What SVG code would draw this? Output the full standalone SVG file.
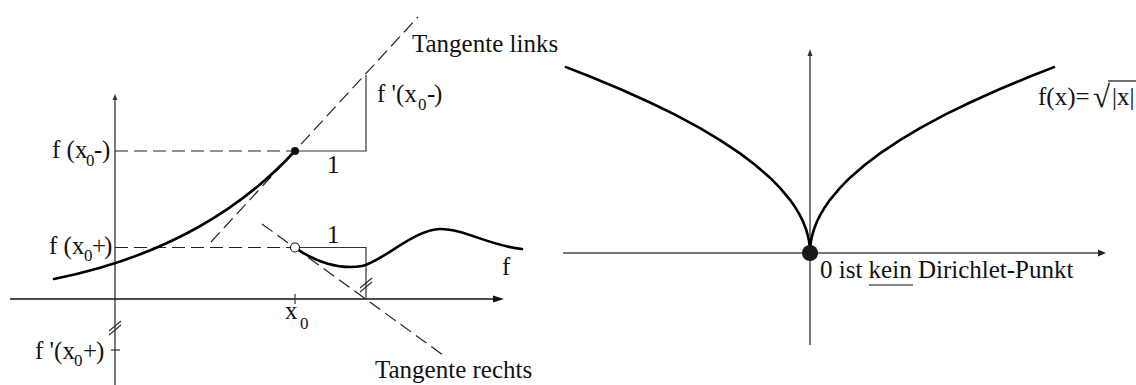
<svg xmlns="http://www.w3.org/2000/svg" width="1136" height="385" viewBox="0 0 1136 385">
<style>
text{font-family:"Liberation Serif","Times New Roman",serif;font-size:25px;fill:#111}
.sub{font-size:17px}
.dash{stroke:#222;stroke-width:1.2;stroke-dasharray:13 6;fill:none}
.thin{stroke:#333;stroke-width:1.2;fill:none}
.curve{stroke:#000;stroke-width:2.6;fill:none;stroke-linecap:round;stroke-linejoin:round}
</style>
<rect width="1136" height="385" fill="#fff"/>
<g id="left-plot">
  <g id="left-axes">
    <line x1="115" y1="98" x2="115" y2="385" stroke="#7a7a7a" stroke-width="2"/>
    <polygon points="115,94 112.5,100 117.5,100" fill="#333"/>
    <line x1="10" y1="299" x2="496" y2="299" stroke="#111" stroke-width="1.3"/>
    <polygon points="504,299 493,295.5 493,302.5" fill="#111"/>
    <line x1="295" y1="294" x2="295" y2="304" class="thin"/>
    <line x1="111" y1="350" x2="120" y2="350" class="thin"/>
    <line x1="109" y1="331" x2="121" y2="321" class="thin"/>
    <line x1="109" y1="335" x2="121" y2="325" class="thin"/>
  </g>
  <g id="connectors">
    <line x1="115" y1="151" x2="291" y2="151" class="dash"/>
    <line x1="115" y1="247.5" x2="290" y2="247.5" class="dash"/>
    <line x1="211" y1="242" x2="418" y2="17" class="dash"/>
    <line x1="262" y1="224" x2="443" y2="355" class="dash"/>
    <polyline points="295,151 366,151 366,75" class="thin"/>
    <polyline points="299.5,247.5 366,247.5 366,299" class="thin"/>
    <line x1="360" y1="288" x2="372" y2="278" class="thin"/>
    <line x1="360" y1="292" x2="372" y2="282" class="thin"/>
  </g>
  <g id="function-f">
    <path d="M54,279 C154,259 235,216 295,151" class="curve"/>
    <path d="M295,247.5 C315,262 340,270 362,266 C380,263 415,229 440,229 C465,229 490,246 522,249" class="curve"/>
    <circle cx="295" cy="151" r="4" fill="#111"/>
    <circle cx="295" cy="247.5" r="4.5" fill="#fff" stroke="#111" stroke-width="1.1"/>
  </g>
  <g id="left-labels">
    <text x="412" y="52">Tangente links</text>
    <text x="375" y="378">Tangente rechts</text>
    <text x="377" y="102">f '(x<tspan class="sub" x="418" y="110">0</tspan><tspan x="427" y="102">-</tspan><tspan x="434" y="102">)</tspan></text>
    <text x="52" y="158">f (x<tspan class="sub" x="86" y="166">0</tspan><tspan x="94" y="158">-</tspan><tspan x="102" y="158">)</tspan></text>
    <text x="49" y="254">f (x<tspan class="sub" x="84" y="261">0</tspan><tspan x="92" y="254">+</tspan><tspan x="104" y="254">)</tspan></text>
    <text x="35" y="359">f '(x<tspan class="sub" x="74" y="366">0</tspan><tspan x="83" y="359">+</tspan><tspan x="96" y="359">)</tspan></text>
    <text x="285" y="319">x<tspan class="sub" x="300" y="329">0</tspan></text>
    <text x="327" y="173">1</text>
    <text x="327" y="243">1</text>
    <text x="502" y="275">f</text>
  </g>
</g>
<g id="right-plot">
  <g id="right-axes">
    <line x1="810" y1="54" x2="810" y2="345" stroke="#333" stroke-width="1.3"/>
    <polygon points="810,49 807.5,56 812.5,56" fill="#333"/>
    <line x1="563" y1="253" x2="1099" y2="253" stroke="#777" stroke-width="1.8"/>
    <polygon points="1106,253 1098,249.5 1098,256.5" fill="#222"/>
  </g>
  <g id="sqrt-curve">
    <polyline class="curve" points="566,67.1 590,76.5 620,89 650,102.5 675,114.7 700,128.2 720,140.1 740,153.4 755,164.7 770,177.7 780,187.8 790,199.8 795,206.9 800,215.4 803,221.5 806,229.2 808,236.2 809,241.1 809.5,244.6 810,253"/>
    <polyline class="curve" points="1054,67.1 1030,76.5 1000,89 970,102.5 945,114.7 920,128.2 900,140.1 880,153.4 865,164.7 850,177.7 840,187.8 830,199.8 825,206.9 820,215.4 817,221.5 814,229.2 812,236.2 811,241.1 810.5,244.6 810,253"/>
    <circle cx="810" cy="253" r="8" fill="#1a1a1a"/>
  </g>
  <g id="right-labels">
    <text x="1038" y="105">f(x)=<tspan x="1093" y="107" font-size="31">√</tspan><tspan x="1112" y="105">|x|</tspan></text>
    <line x1="1108" y1="81" x2="1136" y2="81" stroke="#111" stroke-width="1.2"/>
    <text x="820" y="278">0 ist kein Dirichlet-Punkt</text>
    <line x1="869" y1="285" x2="913" y2="285" stroke="#111" stroke-width="1.2"/>
  </g>
</g>
</svg>
